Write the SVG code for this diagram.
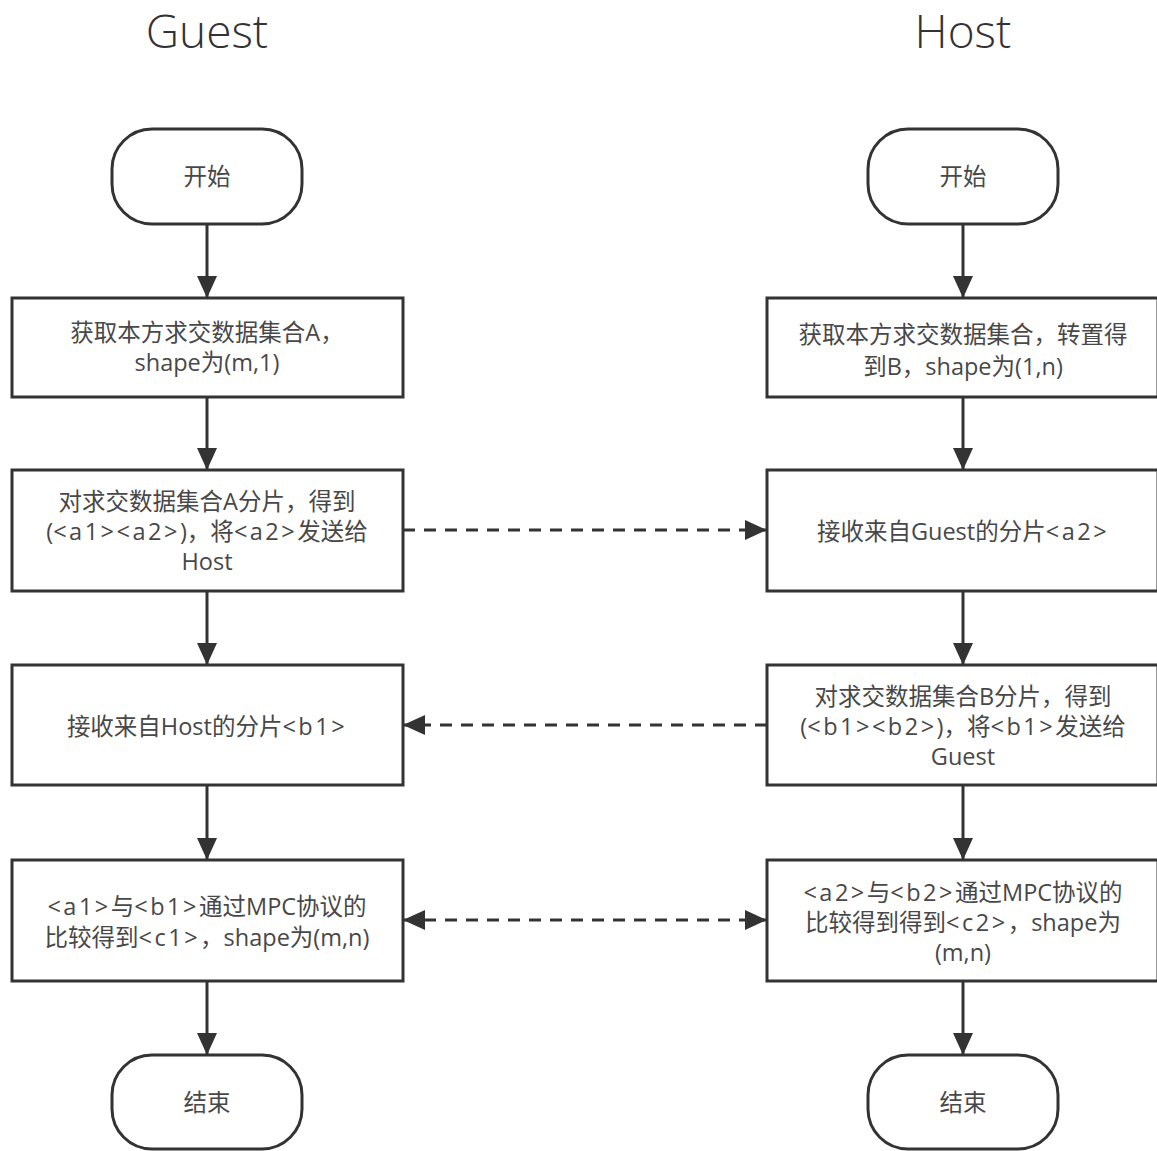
<svg xmlns="http://www.w3.org/2000/svg" width="1157" height="1151" viewBox="0 0 1157 1151">
  <style>
    .shape { fill: #ffffff; stroke: #333333; stroke-width: 3; }
    .label { font-family: "Open Sans", "Noto Sans CJK SC", sans-serif; font-size: 23.5px; fill: #484848; text-anchor: middle; }
    .ab { letter-spacing: 2.5px; }
    .title { font-family: "Open Sans", "Noto Sans CJK SC", sans-serif; font-size: 46px; font-weight: 300; fill: #333333; text-anchor: middle; }
    .flow { fill: none; stroke: #333333; stroke-width: 3; }
    .dash { stroke-dasharray: 12 9; }
  </style>
  <defs>
    <marker id="head" viewBox="0 0 22 20" refX="22" refY="10" markerWidth="22" markerHeight="20" markerUnits="userSpaceOnUse" orient="auto-start-reverse">
      <path d="M0,0 L22,10 L0,20 Z" fill="#333333"/>
    </marker>
  </defs>
  <rect width="1157" height="1151" fill="#ffffff"/>

  <text class="title" x="207" y="48">Guest</text>
  <text class="title" x="963" y="48">Host</text>

  <g id="connectors">
    <!-- Guest column -->
    <line class="flow" x1="207" y1="224" x2="207" y2="298" marker-end="url(#head)"/>
    <line class="flow" x1="207" y1="397" x2="207" y2="470" marker-end="url(#head)"/>
    <line class="flow" x1="207" y1="591" x2="207" y2="665" marker-end="url(#head)"/>
    <line class="flow" x1="207" y1="785" x2="207" y2="860" marker-end="url(#head)"/>
    <line class="flow" x1="207" y1="981" x2="207" y2="1055" marker-end="url(#head)"/>
    <!-- Host column -->
    <line class="flow" x1="963" y1="224" x2="963" y2="298" marker-end="url(#head)"/>
    <line class="flow" x1="963" y1="397" x2="963" y2="470" marker-end="url(#head)"/>
    <line class="flow" x1="963" y1="591" x2="963" y2="665" marker-end="url(#head)"/>
    <line class="flow" x1="963" y1="785" x2="963" y2="860" marker-end="url(#head)"/>
    <line class="flow" x1="963" y1="981" x2="963" y2="1055" marker-end="url(#head)"/>
    <!-- exchanges between parties -->
    <line class="flow dash" x1="403" y1="530" x2="767" y2="530" marker-end="url(#head)"/>
    <line class="flow dash" x1="767" y1="725" x2="403" y2="725" marker-end="url(#head)"/>
    <line class="flow dash" x1="403" y1="920" x2="767" y2="920" marker-start="url(#head)" marker-end="url(#head)"/>
  </g>

  <!-- Guest nodes -->
  <g id="guest-start">
    <rect class="shape" x="112" y="129" width="190" height="95" rx="40" ry="40"/>
    <text class="label" x="207" y="185">开始</text>
  </g>
  <g id="guest-load">
    <rect class="shape" x="12" y="298" width="391" height="99"/>
    <text class="label" x="207" y="341">获取本方求交数据集合A，</text>
    <text class="label" x="207" y="371">shape为(m,1)</text>
  </g>
  <g id="guest-split">
    <rect class="shape" x="12" y="470" width="391" height="121"/>
    <text class="label" x="207" y="510">对求交数据集合A分片，得到</text>
    <text class="label" x="207" y="540">(<tspan class="ab">&lt;a1&gt;&lt;a2&gt;</tspan>)，将<tspan class="ab">&lt;a2&gt;</tspan>发送给</text>
    <text class="label" x="207" y="570">Host</text>
  </g>
  <g id="guest-receive">
    <rect class="shape" x="12" y="665" width="391" height="120"/>
    <text class="label" x="207" y="735">接收来自Host的分片<tspan class="ab">&lt;b1&gt;</tspan></text>
  </g>
  <g id="guest-compare">
    <rect class="shape" x="12" y="860" width="391" height="121"/>
    <text class="label" x="207" y="915"><tspan class="ab">&lt;a1&gt;</tspan>与<tspan class="ab">&lt;b1&gt;</tspan>通过MPC协议的</text>
    <text class="label" x="207" y="946">比较得到<tspan class="ab">&lt;c1&gt;</tspan>，shape为(m,n)</text>
  </g>
  <g id="guest-end">
    <rect class="shape" x="112" y="1055" width="190" height="94" rx="40" ry="40"/>
    <text class="label" x="207" y="1111">结束</text>
  </g>

  <!-- Host nodes -->
  <g id="host-start">
    <rect class="shape" x="868" y="129" width="190" height="95" rx="40" ry="40"/>
    <text class="label" x="963" y="185">开始</text>
  </g>
  <g id="host-load">
    <rect class="shape" x="767" y="298" width="391" height="99"/>
    <text class="label" x="963" y="343">获取本方求交数据集合，转置得</text>
    <text class="label" x="963" y="375">到B，shape为(1,n)</text>
  </g>
  <g id="host-receive">
    <rect class="shape" x="767" y="470" width="391" height="121"/>
    <text class="label" x="963" y="540">接收来自Guest的分片<tspan class="ab">&lt;a2&gt;</tspan></text>
  </g>
  <g id="host-split">
    <rect class="shape" x="767" y="665" width="391" height="120"/>
    <text class="label" x="963" y="705">对求交数据集合B分片，得到</text>
    <text class="label" x="963" y="735">(<tspan class="ab">&lt;b1&gt;&lt;b2&gt;</tspan>)，将<tspan class="ab">&lt;b1&gt;</tspan>发送给</text>
    <text class="label" x="963" y="765">Guest</text>
  </g>
  <g id="host-compare">
    <rect class="shape" x="767" y="860" width="391" height="121"/>
    <text class="label" x="963" y="901"><tspan class="ab">&lt;a2&gt;</tspan>与<tspan class="ab">&lt;b2&gt;</tspan>通过MPC协议的</text>
    <text class="label" x="963" y="931">比较得到得到<tspan class="ab">&lt;c2&gt;</tspan>，shape为</text>
    <text class="label" x="963" y="961">(m,n)</text>
  </g>
  <g id="host-end">
    <rect class="shape" x="868" y="1055" width="190" height="94" rx="40" ry="40"/>
    <text class="label" x="963" y="1111">结束</text>
  </g>
</svg>
